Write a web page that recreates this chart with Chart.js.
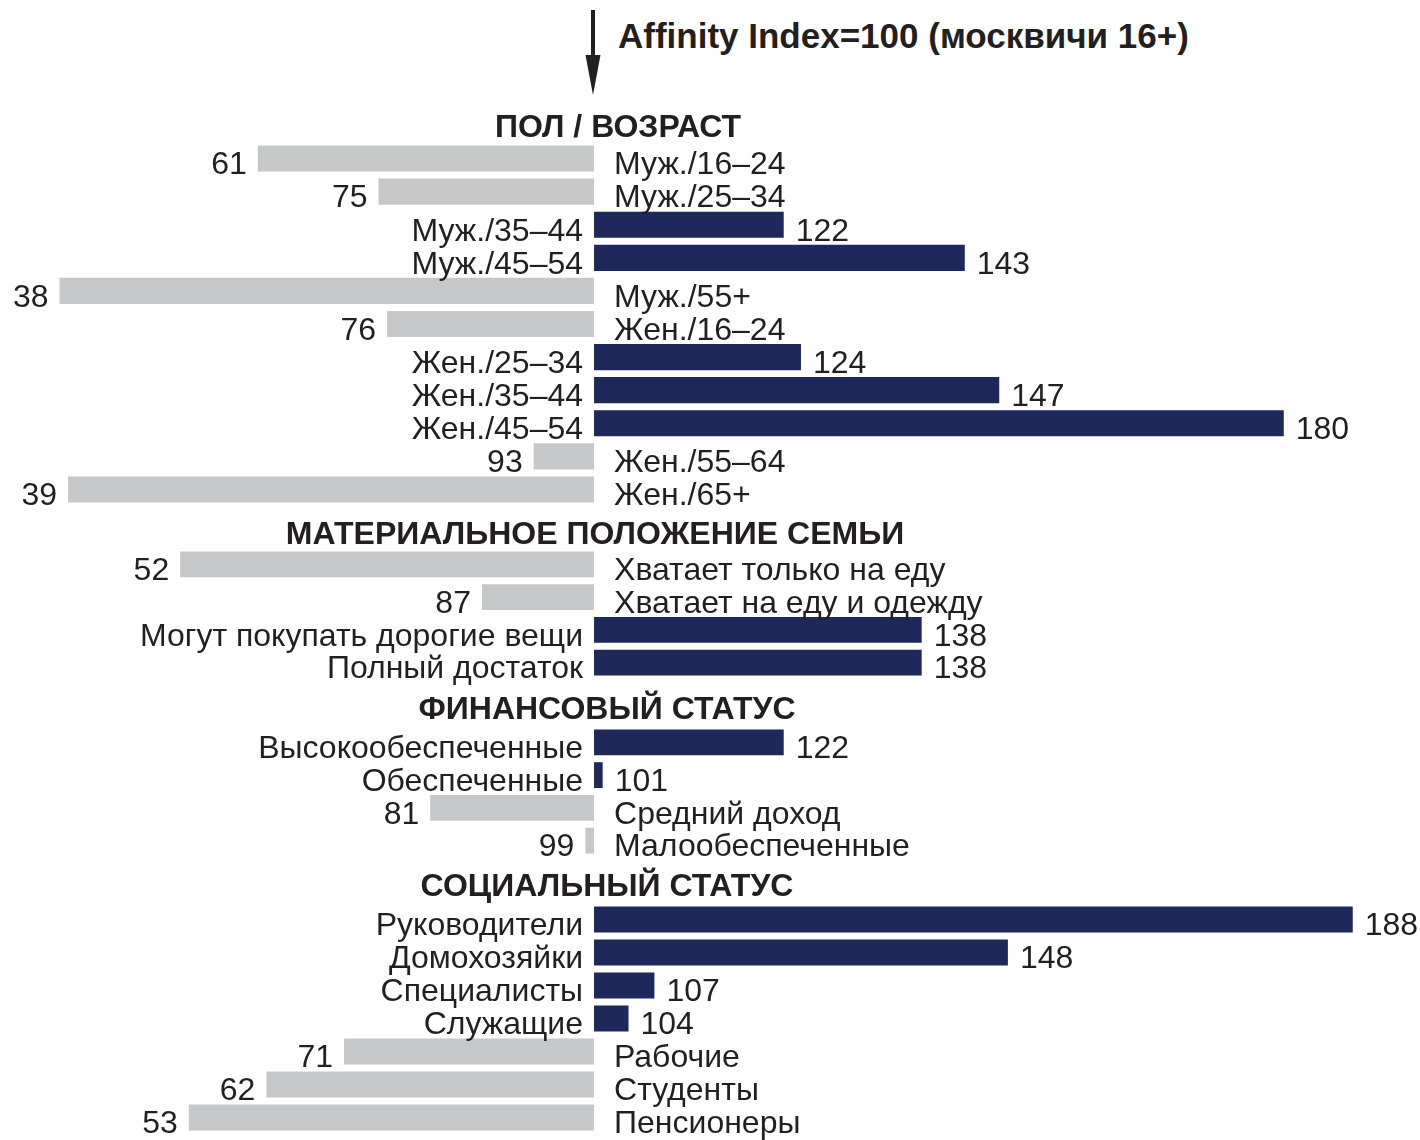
<!DOCTYPE html>
<html>
<head>
<meta charset="utf-8">
<script src="https://cdn.jsdelivr.net/npm/chart.js@4.4.1/dist/chart.umd.min.js"></script>
<style>
  html,body{margin:0;padding:0;background:#fff;}
  #wrap{position:relative;width:1420px;height:1140px;overflow:hidden;
        font-family:"Liberation Sans",Arial,Helvetica,sans-serif;color:#231f20;}
  .sec{position:absolute;left:0;}
  .hdr{position:absolute;font-weight:bold;font-size:32px;line-height:32px;
       white-space:nowrap;transform:translateX(-50%);}
  #title{position:absolute;left:618px;top:18px;font-weight:bold;font-size:35px;
         line-height:35px;white-space:nowrap;}
  #arrow{position:absolute;left:0;top:0;}
</style>
</head>
<body>
<div id="wrap">
  <svg id="arrow" width="620" height="100">
    <rect x="591" y="10" width="4" height="55" fill="#231f20"/>
    <polygon points="585.5,55 600.5,55 593,95" fill="#231f20"/>
  </svg>
  <div id="title">Affinity Index=100 (москвичи 16+)</div>
</div>
<script>
// === данные ===
const BASE = 100;               // индекс 100 = москвичи 16+

const ageLabels = ['Муж./16–24','Муж./25–34','Муж./35–44','Муж./45–54','Муж./55+',
                   'Жен./16–24','Жен./25–34','Жен./35–44','Жен./45–54','Жен./55–64','Жен./65+'];
const ageValues = [61,75,122,143,38,76,124,147,180,93,39];

const wealthLabels = ['Хватает только на еду','Хватает на еду и одежду',
                      'Могут покупать дорогие вещи','Полный достаток'];
const wealthValues = [52,87,138,138];

const finLabels = ['Высокообеспеченные','Обеспеченные','Средний доход','Малообеспеченные'];
const finValues = [122,101,81,99];

const socLabels = ['Руководители','Домохозяйки','Специалисты','Служащие',
                   'Рабочие','Студенты','Пенсионеры'];
const socValues = [188,148,107,104,71,62,53];

const sectionTitles = ['ПОЛ / ВОЗРАСТ','МАТЕРИАЛЬНОЕ ПОЛОЖЕНИЕ СЕМЬИ',
                       'ФИНАНСОВЫЙ СТАТУС','СОЦИАЛЬНЫЙ СТАТУС'];

// === раскладка (пиксели) ===
const X_MIN = 31.1, X_MAX = 195.8;
const PAD = 12;
const layout = [
  {top:129.5, h:364, hx:618, hy:125},
  {top:535.6, h:131, hx:595, hy:532},
  {top:713.6, h:131, hx:607, hy:707},
  {top:890.5, h:231, hx:607, hy:884}
];
const GRAY = '#c6c7c9', NAVY = '#1e285a', INK = '#231f20';
const FONT = '32px "Liberation Sans", Arial, Helvetica, sans-serif';

// === подписи у столбиков ===
const rowLabels = {
  id:'rowLabels',
  afterDatasetsDraw(chart){
    const ctx = chart.ctx;
    const xs = chart.scales.x;
    const base = xs.getPixelForValue(BASE);
    const ds = chart.data.datasets[0];
    ctx.save();
    ctx.font = FONT;
    ctx.fillStyle = INK;
    ctx.textBaseline = 'middle';
    chart.getDatasetMeta(0).data.forEach((bar,i)=>{
      const v = ds.data[i][1];
      const y = bar.y + 7;
      const end = xs.getPixelForValue(v);
      const lbl = chart.data.labels[i];
      if(v < BASE){
        ctx.textAlign='right'; ctx.fillText(String(v), end-11, y);
        ctx.textAlign='left';  ctx.fillText(lbl, base+20, y);
      } else {
        ctx.textAlign='right'; ctx.fillText(lbl, base-11, y);
        ctx.textAlign='left';  ctx.fillText(String(v), end+12, y);
      }
    });
    ctx.restore();
  }
};

function makeSection(idx, labels, values){
  const L = layout[idx];
  const wrap = document.getElementById('wrap');

  const canvas = document.createElement('canvas');
  canvas.className = 'sec';
  canvas.width = 1420; canvas.height = L.h + PAD*2;
  canvas.style.top = L.top + 'px';
  canvas.style.width = '1420px'; canvas.style.height = (L.h + PAD*2) + 'px';
  wrap.appendChild(canvas);

  const hdr = document.createElement('div');
  hdr.className = 'hdr';
  hdr.textContent = sectionTitles[idx];
  hdr.style.left = L.hx + 'px';
  hdr.style.top = (L.hy - 15) + 'px';
  wrap.appendChild(hdr);

  new Chart(canvas.getContext('2d'), {
    type:'bar',
    data:{
      labels:labels,
      datasets:[{
        data:values.map(v=>[BASE, v]),
        backgroundColor:values.map(v=>v<BASE?GRAY:NAVY),
        borderWidth:0,
        borderSkipped:false,
        barPercentage:0.79,
        categoryPercentage:1
      }]
    },
    options:{
      indexAxis:'y',
      responsive:false,
      animation:false,
      devicePixelRatio:1,
      layout:{padding:{top:PAD,bottom:PAD,left:0,right:0}},
      scales:{
        x:{type:'linear',min:X_MIN,max:X_MAX,display:false},
        y:{type:'category',display:false,offset:true}
      },
      plugins:{legend:{display:false},tooltip:{enabled:false},title:{display:false}}
    },
    plugins:[rowLabels]
  });
}

makeSection(0, ageLabels, ageValues);
makeSection(1, wealthLabels, wealthValues);
makeSection(2, finLabels, finValues);
makeSection(3, socLabels, socValues);
</script>
</body>
</html>
